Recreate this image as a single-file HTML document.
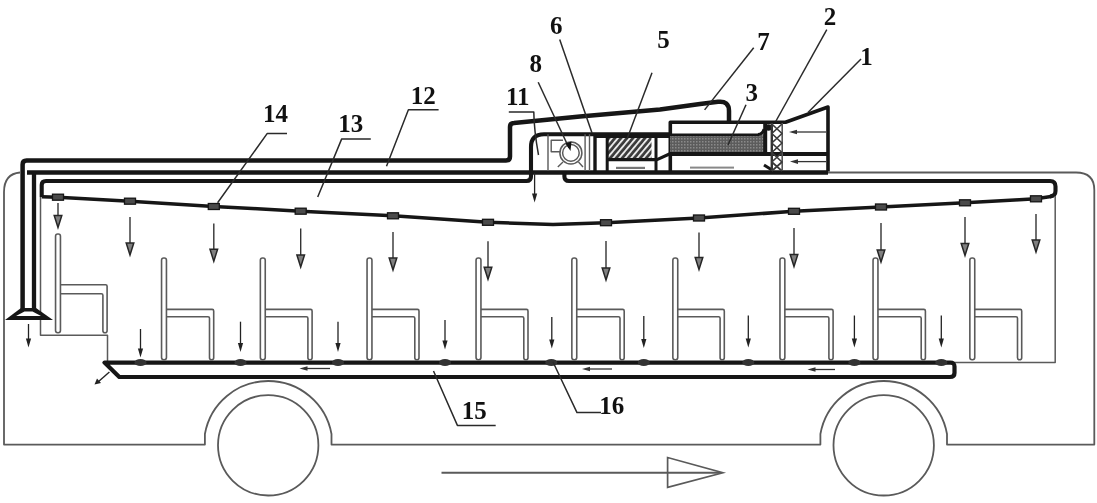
<!DOCTYPE html>
<html><head><meta charset="utf-8"><style>
html,body{margin:0;padding:0;background:#fff;width:1097px;height:503px;overflow:hidden}
svg{display:block;filter:blur(0.3px)}
path,polyline,line{stroke-linejoin:round}
text{font-family:"Liberation Serif",serif;font-weight:bold;font-size:25px;fill:#111}
</style></head><body>
<svg width="1097" height="503" viewBox="0 0 1097 503">
<path d="M20 172.5 Q4 174 4 192 V444.6 H204.9 V434 A64.3 64.3 0 0 1 331.5 434 V444.6 H820.4 V434 A64.3 64.3 0 0 1 947 434 V444.6 H1094.3 V190 Q1094.3 172.5 1076 172.5 H826" fill="none" stroke="#5a5a5a" stroke-width="1.8"/>
<circle cx="268.2" cy="445.3" r="50.2" fill="none" stroke="#5a5a5a" stroke-width="1.8"/>
<circle cx="883.7" cy="445.3" r="50.2" fill="none" stroke="#5a5a5a" stroke-width="1.8"/>
<path d="M22.6 310 V164.5 Q22.6 160.5 26.6 160.5 H506 Q510 160.5 510 156.5 V127 Q510 123 514 123 L580 116.6 L660 109.5 L700 104 L718 101.8 Q729 100.5 729 111 V122" fill="none" stroke="#161616" stroke-width="4.5"/>
<path d="M27 172.5 H828" fill="none" stroke="#161616" stroke-width="4.3"/>
<path d="M34 310 V172" fill="none" stroke="#161616" stroke-width="4.3"/>
<path d="M41.7 197 V185 Q41.7 181 46 181 H526.5 Q531 181 531 176.5 V147 Q531 134.3 544 134.3 H670" fill="none" stroke="#161616" stroke-width="4.1"/>
<path d="M564.4 172 V176.5 Q564.4 181 569 181 H1050 Q1055.5 181 1055.5 186.5 V191 Q1055.5 196 1050 196.5" fill="none" stroke="#161616" stroke-width="4.1"/>
<polyline points="41.7,196.8 58,197.2 130,201.2 213.8,206.5 300.7,211.2 393,215.8 488,222.3 553,224.4 606,222.7 699,218 794,211.3 881,207 965,202.8 1036,198.8 1051,196.5" fill="none" stroke="#161616" stroke-width="3.5"/>
<path d="M40.5 197 V335.3 H107.5 V362" fill="none" stroke="#5a5a5a" stroke-width="1.5"/>
<path d="M1055.2 196 V362.4 H953" fill="none" stroke="#5a5a5a" stroke-width="1.5"/>
<path d="M104.5 362.6 H950 Q954.5 362.4 954.5 366.5 V373 Q954.5 377 950 377 H119.3 Z" fill="none" stroke="#161616" stroke-width="4.2"/>
<polygon points="21,308 36,308 53,320 5,320" fill="#161616"/>
<polygon points="24.5,311.5 32.5,311.5 41,316 16,316" fill="#fff"/>
<rect x="55.55" y="234" width="4.9" height="98.80000000000001" rx="2.2" fill="none" stroke="#5a5a5a" stroke-width="1.6"/>
<path d="M60.45 284.8 H105.6 Q107.1 284.8 107.1 286.3 V330.8 Q107.1 332.8 105.0 332.8 Q102.89999999999999 332.8 102.89999999999999 330.8 V295.3 Q102.89999999999999 293.8 101.39999999999999 293.8 H60.45" fill="none" stroke="#5a5a5a" stroke-width="1.6"/>
<rect x="161.55" y="258" width="4.9" height="101.80000000000001" rx="2.2" fill="none" stroke="#5a5a5a" stroke-width="1.6"/>
<path d="M166.45 309.4 H212.2 Q213.7 309.4 213.7 310.9 V357.8 Q213.7 359.8 211.6 359.8 Q209.5 359.8 209.5 357.8 V318.2 Q209.5 316.7 208.0 316.7 H166.45" fill="none" stroke="#5a5a5a" stroke-width="1.6"/>
<rect x="260.35" y="258" width="4.9" height="101.80000000000001" rx="2.2" fill="none" stroke="#5a5a5a" stroke-width="1.6"/>
<path d="M265.25 309.4 H310.6 Q312.1 309.4 312.1 310.9 V357.8 Q312.1 359.8 310.0 359.8 Q307.90000000000003 359.8 307.90000000000003 357.8 V318.2 Q307.90000000000003 316.7 306.40000000000003 316.7 H265.25" fill="none" stroke="#5a5a5a" stroke-width="1.6"/>
<rect x="367.05" y="258" width="4.9" height="101.80000000000001" rx="2.2" fill="none" stroke="#5a5a5a" stroke-width="1.6"/>
<path d="M371.95 309.4 H417.5 Q419 309.4 419 310.9 V357.8 Q419 359.8 416.9 359.8 Q414.8 359.8 414.8 357.8 V318.2 Q414.8 316.7 413.3 316.7 H371.95" fill="none" stroke="#5a5a5a" stroke-width="1.6"/>
<rect x="476.05" y="258" width="4.9" height="101.80000000000001" rx="2.2" fill="none" stroke="#5a5a5a" stroke-width="1.6"/>
<path d="M480.95 309.4 H526.5 Q528 309.4 528 310.9 V357.8 Q528 359.8 525.9 359.8 Q523.8 359.8 523.8 357.8 V318.2 Q523.8 316.7 522.3 316.7 H480.95" fill="none" stroke="#5a5a5a" stroke-width="1.6"/>
<rect x="571.8499999999999" y="258" width="4.9" height="101.80000000000001" rx="2.2" fill="none" stroke="#5a5a5a" stroke-width="1.6"/>
<path d="M576.75 309.4 H622.7 Q624.2 309.4 624.2 310.9 V357.8 Q624.2 359.8 622.1 359.8 Q620.0 359.8 620.0 357.8 V318.2 Q620.0 316.7 618.5 316.7 H576.75" fill="none" stroke="#5a5a5a" stroke-width="1.6"/>
<rect x="672.8499999999999" y="258" width="4.9" height="101.80000000000001" rx="2.2" fill="none" stroke="#5a5a5a" stroke-width="1.6"/>
<path d="M677.75 309.4 H722.8 Q724.3 309.4 724.3 310.9 V357.8 Q724.3 359.8 722.1999999999999 359.8 Q720.0999999999999 359.8 720.0999999999999 357.8 V318.2 Q720.0999999999999 316.7 718.5999999999999 316.7 H677.75" fill="none" stroke="#5a5a5a" stroke-width="1.6"/>
<rect x="779.9499999999999" y="258" width="4.9" height="101.80000000000001" rx="2.2" fill="none" stroke="#5a5a5a" stroke-width="1.6"/>
<path d="M784.85 309.4 H831.6 Q833.1 309.4 833.1 310.9 V357.8 Q833.1 359.8 831.0 359.8 Q828.9 359.8 828.9 357.8 V318.2 Q828.9 316.7 827.4 316.7 H784.85" fill="none" stroke="#5a5a5a" stroke-width="1.6"/>
<rect x="873.05" y="258" width="4.9" height="101.80000000000001" rx="2.2" fill="none" stroke="#5a5a5a" stroke-width="1.6"/>
<path d="M877.95 309.4 H923.9 Q925.4 309.4 925.4 310.9 V357.8 Q925.4 359.8 923.3 359.8 Q921.1999999999999 359.8 921.1999999999999 357.8 V318.2 Q921.1999999999999 316.7 919.6999999999999 316.7 H877.95" fill="none" stroke="#5a5a5a" stroke-width="1.6"/>
<rect x="969.8499999999999" y="258" width="4.9" height="101.80000000000001" rx="2.2" fill="none" stroke="#5a5a5a" stroke-width="1.6"/>
<path d="M974.75 309.4 H1020.2 Q1021.7 309.4 1021.7 310.9 V357.8 Q1021.7 359.8 1019.6 359.8 Q1017.5 359.8 1017.5 357.8 V318.2 Q1017.5 316.7 1016.0 316.7 H974.75" fill="none" stroke="#5a5a5a" stroke-width="1.6"/>
<line x1="58" y1="203" x2="58" y2="221.5" stroke="#333" stroke-width="1.4"/>
<polygon points="54.2,215.5 61.8,215.5 58,227.5" fill="#808080" stroke="#262626" stroke-width="1.5"/>
<line x1="130" y1="217" x2="130" y2="249" stroke="#333" stroke-width="1.4"/>
<polygon points="126.2,243 133.8,243 130,255" fill="#808080" stroke="#262626" stroke-width="1.5"/>
<line x1="213.8" y1="223.4" x2="213.8" y2="255.2" stroke="#333" stroke-width="1.4"/>
<polygon points="210.0,249.2 217.60000000000002,249.2 213.8,261.2" fill="#808080" stroke="#262626" stroke-width="1.5"/>
<line x1="300.7" y1="228.4" x2="300.7" y2="261" stroke="#333" stroke-width="1.4"/>
<polygon points="296.9,255 304.5,255 300.7,267" fill="#808080" stroke="#262626" stroke-width="1.5"/>
<line x1="393" y1="232" x2="393" y2="264" stroke="#333" stroke-width="1.4"/>
<polygon points="389.2,258 396.8,258 393,270" fill="#808080" stroke="#262626" stroke-width="1.5"/>
<line x1="488" y1="241.3" x2="488" y2="273.3" stroke="#333" stroke-width="1.4"/>
<polygon points="484.2,267.3 491.8,267.3 488,279.3" fill="#808080" stroke="#262626" stroke-width="1.5"/>
<line x1="606" y1="241" x2="606" y2="274" stroke="#333" stroke-width="1.4"/>
<polygon points="602.2,268 609.8,268 606,280" fill="#808080" stroke="#262626" stroke-width="1.5"/>
<line x1="699" y1="232.5" x2="699" y2="263.5" stroke="#333" stroke-width="1.4"/>
<polygon points="695.2,257.5 702.8,257.5 699,269.5" fill="#808080" stroke="#262626" stroke-width="1.5"/>
<line x1="794" y1="228" x2="794" y2="260.5" stroke="#333" stroke-width="1.4"/>
<polygon points="790.2,254.5 797.8,254.5 794,266.5" fill="#808080" stroke="#262626" stroke-width="1.5"/>
<line x1="881" y1="223" x2="881" y2="256" stroke="#333" stroke-width="1.4"/>
<polygon points="877.2,250 884.8,250 881,262" fill="#808080" stroke="#262626" stroke-width="1.5"/>
<line x1="965" y1="217" x2="965" y2="249.5" stroke="#333" stroke-width="1.4"/>
<polygon points="961.2,243.5 968.8,243.5 965,255.5" fill="#808080" stroke="#262626" stroke-width="1.5"/>
<line x1="1036" y1="214" x2="1036" y2="246" stroke="#333" stroke-width="1.4"/>
<polygon points="1032.2,240 1039.8,240 1036,252" fill="#808080" stroke="#262626" stroke-width="1.5"/>
<rect x="52.5" y="194.2" width="11" height="6" fill="#4a4a4a" stroke="#151515" stroke-width="1.3"/>
<rect x="124.5" y="198.2" width="11" height="6" fill="#4a4a4a" stroke="#151515" stroke-width="1.3"/>
<rect x="208.3" y="203.5" width="11" height="6" fill="#4a4a4a" stroke="#151515" stroke-width="1.3"/>
<rect x="295.2" y="208.2" width="11" height="6" fill="#4a4a4a" stroke="#151515" stroke-width="1.3"/>
<rect x="387.5" y="212.8" width="11" height="6" fill="#4a4a4a" stroke="#151515" stroke-width="1.3"/>
<rect x="482.5" y="219.3" width="11" height="6" fill="#4a4a4a" stroke="#151515" stroke-width="1.3"/>
<rect x="600.5" y="219.7" width="11" height="6" fill="#4a4a4a" stroke="#151515" stroke-width="1.3"/>
<rect x="693.5" y="215" width="11" height="6" fill="#4a4a4a" stroke="#151515" stroke-width="1.3"/>
<rect x="788.5" y="208.3" width="11" height="6" fill="#4a4a4a" stroke="#151515" stroke-width="1.3"/>
<rect x="875.5" y="204" width="11" height="6" fill="#4a4a4a" stroke="#151515" stroke-width="1.3"/>
<rect x="959.5" y="199.8" width="11" height="6" fill="#4a4a4a" stroke="#151515" stroke-width="1.3"/>
<rect x="1030.5" y="195.8" width="11" height="6" fill="#4a4a4a" stroke="#151515" stroke-width="1.3"/>
<line x1="140.5" y1="329" x2="140.5" y2="352.5" stroke="#222" stroke-width="1.3"/>
<polygon points="137.9,348.5 143.1,348.5 140.5,357.5" fill="#222"/>
<line x1="240.5" y1="321.7" x2="240.5" y2="347" stroke="#222" stroke-width="1.3"/>
<polygon points="237.9,343 243.1,343 240.5,352" fill="#222"/>
<line x1="338" y1="321.7" x2="338" y2="347" stroke="#222" stroke-width="1.3"/>
<polygon points="335.4,343 340.6,343 338,352" fill="#222"/>
<line x1="445" y1="320" x2="445" y2="344.5" stroke="#222" stroke-width="1.3"/>
<polygon points="442.4,340.5 447.6,340.5 445,349.5" fill="#222"/>
<line x1="551.8" y1="317" x2="551.8" y2="343.5" stroke="#222" stroke-width="1.3"/>
<polygon points="549.1999999999999,339.5 554.4,339.5 551.8,348.5" fill="#222"/>
<line x1="643.8" y1="316" x2="643.8" y2="343" stroke="#222" stroke-width="1.3"/>
<polygon points="641.1999999999999,339 646.4,339 643.8,348" fill="#222"/>
<line x1="748.3" y1="315.5" x2="748.3" y2="342.5" stroke="#222" stroke-width="1.3"/>
<polygon points="745.6999999999999,338.5 750.9,338.5 748.3,347.5" fill="#222"/>
<line x1="854.4" y1="315.5" x2="854.4" y2="342.5" stroke="#222" stroke-width="1.3"/>
<polygon points="851.8,338.5 857.0,338.5 854.4,347.5" fill="#222"/>
<line x1="941.3" y1="315.5" x2="941.3" y2="342.5" stroke="#222" stroke-width="1.3"/>
<polygon points="938.6999999999999,338.5 943.9,338.5 941.3,347.5" fill="#222"/>
<ellipse cx="140.5" cy="362.5" rx="6" ry="3.6" fill="#333"/>
<ellipse cx="240.5" cy="362.5" rx="6" ry="3.6" fill="#333"/>
<ellipse cx="338" cy="362.5" rx="6" ry="3.6" fill="#333"/>
<ellipse cx="445" cy="362.5" rx="6" ry="3.6" fill="#333"/>
<ellipse cx="551.3" cy="362.5" rx="6" ry="3.6" fill="#333"/>
<ellipse cx="643.8" cy="362.5" rx="6" ry="3.6" fill="#333"/>
<ellipse cx="748.3" cy="362.5" rx="6" ry="3.6" fill="#333"/>
<ellipse cx="854.4" cy="362.5" rx="6" ry="3.6" fill="#333"/>
<ellipse cx="941.3" cy="362.5" rx="6" ry="3.6" fill="#333"/>
<line x1="330" y1="368.5" x2="304.5" y2="368.5" stroke="#333" stroke-width="1.3"/>
<polygon points="307.5,366.2 307.5,370.8 299.5,368.5" fill="#333"/>
<line x1="612" y1="369" x2="587" y2="369" stroke="#333" stroke-width="1.3"/>
<polygon points="590,366.7 590,371.3 582,369" fill="#333"/>
<line x1="835" y1="369.5" x2="812.5" y2="369.5" stroke="#333" stroke-width="1.3"/>
<polygon points="815.5,367.2 815.5,371.8 807.5,369.5" fill="#333"/>
<line x1="109.4" y1="372" x2="98" y2="382" stroke="#222" stroke-width="1.4"/>
<polygon points="94.5,384.5 97,378.5 101,383" fill="#222"/>
<line x1="28.5" y1="324" x2="28.5" y2="342.5" stroke="#222" stroke-width="1.3"/>
<polygon points="25.9,338.5 31.1,338.5 28.5,347.5" fill="#222"/>
<line x1="534.6" y1="173" x2="534.6" y2="197.5" stroke="#222" stroke-width="1.3"/>
<polygon points="532.0,193.5 537.2,193.5 534.6,202.5" fill="#222"/>
<path d="M548 134.3 V171 M585.1 134.3 V171 M589.5 134.3 V171" fill="none" stroke="#5a5a5a" stroke-width="1.4"/>
<path d="M595 134.3 V171" fill="none" stroke="#161616" stroke-width="3.4"/>
<circle cx="570.9" cy="152.9" r="11" fill="none" stroke="#5a5a5a" stroke-width="1.5"/>
<circle cx="570.9" cy="152.9" r="8.3" fill="none" stroke="#5a5a5a" stroke-width="1.5"/>
<path d="M563 140.3 H551.2 V151.8 H560.5 M563 162 L557.8 167 M578.5 162 L583 167" fill="none" stroke="#5a5a5a" stroke-width="1.4"/>
<defs><pattern id="hatch" patternUnits="userSpaceOnUse" width="4.6" height="4.6" patternTransform="rotate(40)"><rect width="4.6" height="4.6" fill="#3a3a3a"/><rect width="1.9" height="4.6" fill="#e8e8e8"/></pattern><pattern id="coil" patternUnits="userSpaceOnUse" width="3" height="3"><rect width="3" height="3" fill="#5c5c5c"/><rect width="1.5" height="1.5" fill="#8a8a8a"/></pattern></defs>
<rect x="608" y="138" width="43.5" height="20.5" fill="url(#hatch)"/>
<path d="M594 136 H669" fill="none" stroke="#161616" stroke-width="4"/>
<path d="M607.2 134 V171 M656 134 V171" fill="none" stroke="#161616" stroke-width="3"/>
<path d="M606 159.6 H657 L670.5 153.5" fill="none" stroke="#161616" stroke-width="3.2"/>
<rect x="616" y="166.8" width="29" height="2.2" fill="#777"/>
<path d="M670.3 171 V122.3 H785.5 L828 107 V171.4" fill="none" stroke="#161616" stroke-width="3.6"/>
<rect x="670" y="134.5" width="95" height="17.5" fill="url(#coil)"/>
<path d="M670 134.8 H759" fill="none" stroke="#161616" stroke-width="2.6"/>
<path d="M765.2 124 V153 M670 154 H828" fill="none" stroke="#161616" stroke-width="4"/>
<path d="M758 134.5 Q763 134 764 129" fill="none" stroke="#161616" stroke-width="3"/>
<circle cx="768.5" cy="127.5" r="3.2" fill="#161616"/>
<rect x="690" y="166.6" width="44" height="2" fill="#888"/>
<path d="M764 165 L772 170" fill="none" stroke="#161616" stroke-width="3"/>
<path d="M771.8 123 V171" fill="none" stroke="#333" stroke-width="2.4"/>
<path d="M782.2 123 V171" fill="none" stroke="#555" stroke-width="1.6"/>
<path d="M771.8 124 L782 133.5 L771.8 143.0 L782 152.5 L771.8 162.0 L782 171 M782 124 L771.8 133.5 L782 143.0 L771.8 152.5 L782 162.0 L771.8 171" fill="none" stroke="#3a3a3a" stroke-width="1.7"/>
<line x1="826" y1="132" x2="794" y2="132" stroke="#333" stroke-width="1.3"/>
<polygon points="797,129.7 797,134.3 789,132" fill="#333"/>
<line x1="826" y1="161.6" x2="795" y2="161.6" stroke="#333" stroke-width="1.3"/>
<polygon points="798,159.29999999999998 798,163.9 790,161.6" fill="#333"/>
<path d="M861 59 L808 112.5" fill="none" stroke="#2a2a2a" stroke-width="1.5"/>
<path d="M826.8 29.7 L775.7 121.5" fill="none" stroke="#2a2a2a" stroke-width="1.5"/>
<path d="M746 104.7 L728 145" fill="none" stroke="#2a2a2a" stroke-width="1.5"/>
<path d="M652 72.8 L627 139" fill="none" stroke="#2a2a2a" stroke-width="1.5"/>
<path d="M559.7 39.4 L592 133" fill="none" stroke="#2a2a2a" stroke-width="1.5"/>
<path d="M753.7 47.8 L704.6 109.9" fill="none" stroke="#2a2a2a" stroke-width="1.5"/>
<path d="M538.2 82.3 L569 148" fill="none" stroke="#2a2a2a" stroke-width="1.5"/>
<path d="M508.8 112 H533.8 Q534 130 538.5 155" fill="none" stroke="#2a2a2a" stroke-width="1.5"/>
<path d="M438.6 109.8 H408.4 L386.5 166.2" fill="none" stroke="#2a2a2a" stroke-width="1.5"/>
<path d="M370.8 138.9 H341.7 L317.7 197" fill="none" stroke="#2a2a2a" stroke-width="1.5"/>
<path d="M287 133.4 H267.3 L217.6 202.7" fill="none" stroke="#2a2a2a" stroke-width="1.5"/>
<path d="M433.5 371 L457.4 425.4 H495.7" fill="none" stroke="#2a2a2a" stroke-width="1.5"/>
<path d="M553 362 L577 412.6 H601" fill="none" stroke="#2a2a2a" stroke-width="1.5"/>
<polygon points="570.5,151 565.5,143.5 571.5,141.5" fill="#111"/>
<line x1="441.5" y1="472.8" x2="720" y2="472.8" stroke="#5a5a5a" stroke-width="1.9"/>
<polygon points="667.6,457.5 667.6,487.4 722.8,472.8" fill="none" stroke="#5a5a5a" stroke-width="1.7"/>
<text x="866.4" y="64.5" text-anchor="middle">1</text>
<text x="829.95" y="25.0" text-anchor="middle">2</text>
<text x="751.85" y="101.2" text-anchor="middle">3</text>
<text x="663.5" y="48.1" text-anchor="middle">5</text>
<text x="556.3" y="33.8" text-anchor="middle">6</text>
<text x="763.4000000000001" y="49.5" text-anchor="middle">7</text>
<text x="535.8" y="72.0" text-anchor="middle">8</text>
<text x="517.7" y="105.4" text-anchor="middle">11</text>
<text x="423.15" y="103.60000000000001" text-anchor="middle">12</text>
<text x="350.8" y="132.3" text-anchor="middle">13</text>
<text x="275.5" y="122.4" text-anchor="middle">14</text>
<text x="474.20000000000005" y="419.4" text-anchor="middle">15</text>
<text x="611.7" y="414.4" text-anchor="middle">16</text>
</svg>
</body></html>
